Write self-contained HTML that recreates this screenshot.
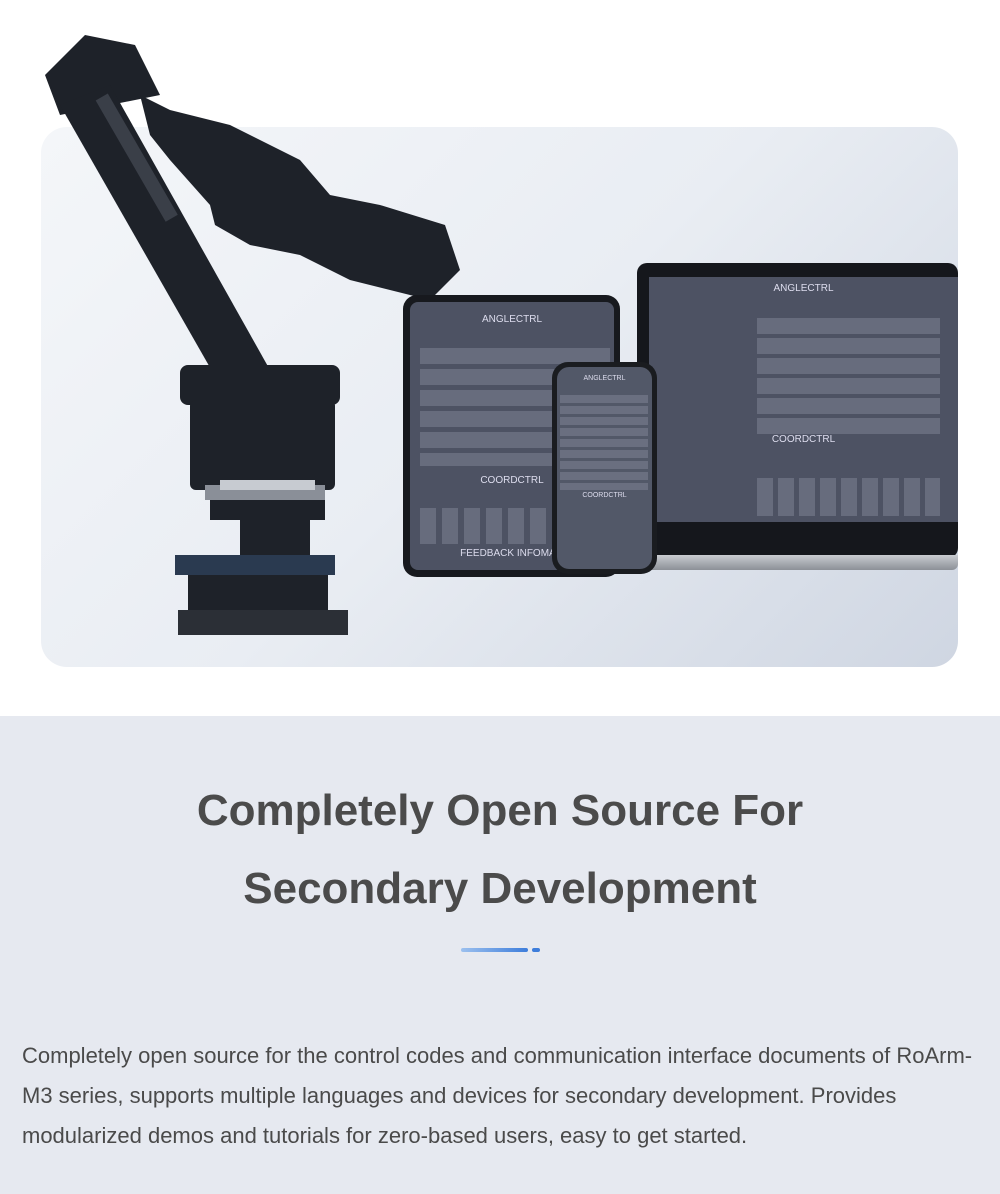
<!DOCTYPE html>
<html><head><meta charset="utf-8"><style>
*{margin:0;padding:0;box-sizing:border-box}
body{width:1000px;height:1194px;background:#fff;font-family:"Liberation Sans",Arial,sans-serif;position:relative;overflow:hidden}
.abs{position:absolute}
.panel{left:41px;top:127px;width:917px;height:540px;border-radius:26px;background:linear-gradient(135deg,#f4f6f9 0%,#e9edf3 50%,#cfd6e2 100%)}
.bottom{left:0;top:716px;width:1000px;height:478px;background:#e6e9f0}
h1{position:absolute;left:0;width:1000px;text-align:center;font-size:44px;font-weight:bold;color:#4b4b4b}
.p{left:22px;top:1036px;width:958px;font-size:22px;line-height:40px;color:#4a4a4a}
.scr{background:#4d5263;color:#dde;font-size:9px;text-align:center}
</style></head><body>
<div class="abs panel"></div>
<svg class="abs" style="left:0;top:0" width="1000" height="716">
<g fill="#1e2229">
<polygon points="45,75 85,35 135,45 160,95 60,115"/>
<polygon points="60,105 110,85 270,370 220,385"/>
<polygon points="140,95 170,110 230,125 300,160 330,195 380,205 445,225 460,270 430,300 390,290 350,280 300,255 250,245 215,225 210,205 170,160 150,135"/>
<rect x="180" y="365" width="160" height="40" rx="8"/>
<rect x="190" y="400" width="145" height="90" rx="6"/>
<rect x="210" y="500" width="115" height="20"/>
<rect x="240" y="515" width="70" height="60"/>
<rect x="188" y="575" width="140" height="40"/>
<rect x="178" y="610" width="170" height="25" fill="#2b2f36"/>
</g>
<rect x="205" y="485" width="120" height="15" fill="#8a8f98"/>
<rect x="175" y="555" width="160" height="20" fill="#2a3a50"/>
<rect x="125" y="90" width="14" height="140" transform="rotate(-30 130 150)" fill="#3a3f48"/>
<rect x="220" y="480" width="95" height="10" fill="#c7cbd1"/>
</svg>
<div class="abs" style="left:637px;top:263px;width:321px;height:295px;background:#15171c;border-radius:10px"></div>
<div class="abs scr" style="left:649px;top:277px;width:309px;height:245px"><div style="margin-top:6px;font-size:10px">ANGLECTRL</div><div style="margin-top:140px;font-size:10px">COORDCTRL</div></div>
<div class="abs" style="left:757px;top:318px;width:183px;height:120px;background:repeating-linear-gradient(180deg,#676c7d 0 16px,transparent 16px 20px)"></div>
<div class="abs" style="left:757px;top:478px;width:183px;height:38px;background:repeating-linear-gradient(90deg,#676c7d 0 16px,transparent 16px 21px)"></div>
<div class="abs" style="left:600px;top:555px;width:358px;height:15px;background:linear-gradient(#c9ccd1,#8c9097);border-radius:0 0 6px 6px"></div>
<div class="abs" style="left:403px;top:295px;width:217px;height:282px;background:#17191e;border-radius:14px"></div>
<div class="abs scr" style="left:410px;top:302px;width:204px;height:268px;border-radius:8px"><div style="margin-top:12px;font-size:10px">ANGLECTRL</div><div style="margin-top:150px;font-size:10px">COORDCTRL</div><div style="margin-top:62px;font-size:10px">FEEDBACK INFOMATI</div></div>
<div class="abs" style="left:420px;top:348px;width:190px;height:118px;background:repeating-linear-gradient(180deg,#676c7d 0 16px,transparent 16px 21px)"></div>
<div class="abs" style="left:420px;top:508px;width:140px;height:36px;background:repeating-linear-gradient(90deg,#676c7d 0 16px,transparent 16px 22px)"></div>
<div class="abs" style="left:552px;top:362px;width:105px;height:212px;background:#1a1c20;border-radius:16px"></div>
<div class="abs scr" style="left:557px;top:367px;width:95px;height:202px;border-radius:12px;background:#525868;font-size:7px"><div style="margin-top:8px">ANGLECTRL</div><div style="margin-top:110px">COORDCTRL</div></div>
<div class="abs" style="left:560px;top:395px;width:88px;height:95px;background:repeating-linear-gradient(180deg,#6a6f80 0 8px,transparent 8px 11px)"></div>
<div class="abs bottom"></div>
<h1 style="top:786px">Completely Open Source For</h1>
<h1 style="top:864px">Secondary Development</h1>
<div class="abs" style="left:461px;top:948px;width:67px;height:4px;border-radius:2px;background:linear-gradient(90deg,#9cc0ee,#3d7ddb)"></div>
<div class="abs" style="left:532px;top:948px;width:8px;height:4px;border-radius:2px;background:#3d7ddb"></div>
<div class="abs p">Completely open source for the control codes and communication interface documents of RoArm-M3 series, supports multiple languages and devices for secondary development. Provides modularized demos and tutorials for zero-based users, easy to get started.</div>
</body></html>
